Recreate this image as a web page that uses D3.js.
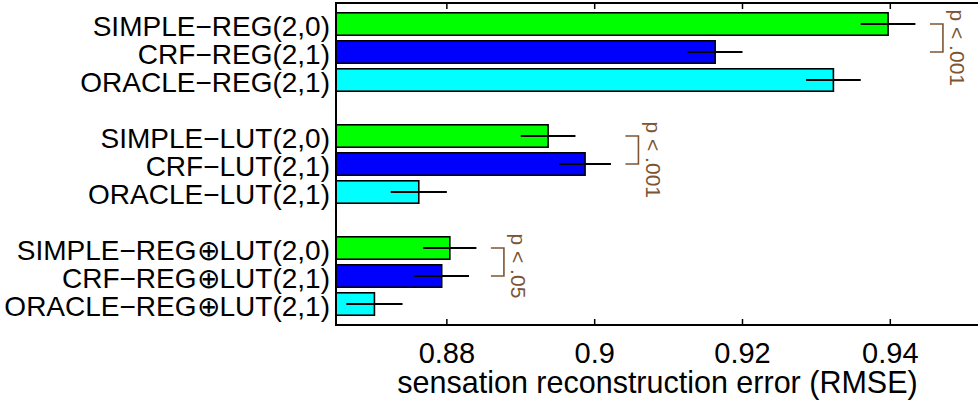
<!DOCTYPE html>
<html>
<head>
<meta charset="utf-8">
<script src="https://cdnjs.cloudflare.com/ajax/libs/d3/7.8.5/d3.min.js"></script>
<style>
  body { margin: 0; background: #fff; }
  svg text { font-family: "Liberation Sans", Arial, Helvetica, sans-serif; }
</style>
</head>
<body>
<div id="chart"></div>
<script>
// data
var categories = [
  "SIMPLE\u2212REG(2,0)", "CRF\u2212REG(2,1)", "ORACLE\u2212REG(2,1)",
  "SIMPLE\u2212LUT(2,0)", "CRF\u2212LUT(2,1)", "ORACLE\u2212LUT(2,1)",
  "SIMPLE\u2212REG\u2295LUT(2,0)", "CRF\u2212REG\u2295LUT(2,1)", "ORACLE\u2212REG\u2295LUT(2,1)"
];
var slots = [0, 1, 2, 4, 5, 6, 8, 9, 10];   // row position, empty rows between groups
var values = [0.9397, 0.9163, 0.9323, 0.8937, 0.8987, 0.8762, 0.8804, 0.8793, 0.8702];
var errors = [0.0037, 0.0037, 0.0037, 0.0037, 0.0035, 0.0038, 0.0036, 0.0037, 0.0038];
var methodColors = ["#00ff00", "#0000ff", "#00ffff"];
var tickValues = [0.88, 0.9, 0.92, 0.94];
var sigPairs = [[0, 1], [3, 4], [6, 7]];
var sigLabels = ["p < .001", "p < .001", "p < .05"];
var xLabel = "sensation reconstruction error (RMSE)";

var w = 978, h = 404;
var plotLeft = 336, plotRight = 979, plotTop = 3, plotBottom = 325;

var svg = d3.select("#chart").append("svg")
  .attr("width", w)
  .attr("height", h);

var x = d3.scaleLinear()
  .domain([0.865, 0.952])
  .range([plotLeft, plotRight]);

var y = d3.scaleBand()
  .domain(d3.range(11))
  .range([plotTop, plotBottom])
  .paddingInner(0.2)
  .paddingOuter(0.35);

// bars
svg.selectAll("rect.bar")
  .data(values)
  .enter().append("rect")
  .attr("class", "bar")
  .attr("x", x(x.domain()[0]))
  .attr("y", function(d, i) { return y(slots[i]); })
  .attr("width", function(d) { return x(d) - x(x.domain()[0]); })
  .attr("height", y.bandwidth())
  .attr("fill", function(d, i) { return methodColors[i % 3]; })
  .attr("stroke", "#000")
  .attr("stroke-width", 1.6);

// error bars
svg.selectAll("line.err")
  .data(values)
  .enter().append("line")
  .attr("class", "err")
  .attr("x1", function(d, i) { return x(d - errors[i]); })
  .attr("x2", function(d, i) { return x(d + errors[i]); })
  .attr("y1", function(d, i) { return y(slots[i]) + y.bandwidth() / 2; })
  .attr("y2", function(d, i) { return y(slots[i]) + y.bandwidth() / 2; })
  .attr("stroke", "#000")
  .attr("stroke-width", 1.8);

// category labels
svg.selectAll("text.cat")
  .data(categories)
  .enter().append("text")
  .attr("class", "cat")
  .attr("x", plotLeft - 6)
  .attr("y", function(d, i) { return y(slots[i]) + y.bandwidth() / 2 + 11.5; })
  .attr("text-anchor", "end")
  .attr("font-size", 28)
  .attr("fill", "#000")
  .text(function(d) { return d; });

// frame
svg.append("rect")
  .attr("x", plotLeft)
  .attr("y", plotTop)
  .attr("width", plotRight - plotLeft)
  .attr("height", plotBottom - plotTop)
  .attr("fill", "none")
  .attr("stroke", "#000")
  .attr("stroke-width", 2);

// ticks, top and bottom, pointing inward
svg.selectAll("line.tickb")
  .data(tickValues)
  .enter().append("line")
  .attr("x1", function(d) { return x(d); })
  .attr("x2", function(d) { return x(d); })
  .attr("y1", plotBottom)
  .attr("y2", plotBottom - 6)
  .attr("stroke", "#000")
  .attr("stroke-width", 1.5);

svg.selectAll("line.tickt")
  .data(tickValues)
  .enter().append("line")
  .attr("x1", function(d) { return x(d); })
  .attr("x2", function(d) { return x(d); })
  .attr("y1", plotTop)
  .attr("y2", plotTop + 6)
  .attr("stroke", "#000")
  .attr("stroke-width", 1.5);

svg.selectAll("text.tick")
  .data(tickValues)
  .enter().append("text")
  .attr("x", function(d) { return x(d); })
  .attr("y", 363)
  .attr("text-anchor", "middle")
  .attr("font-size", 29)
  .text(function(d) { return d3.format("~g")(d); });

svg.append("text")
  .attr("x", 657.5)
  .attr("y", 393)
  .attr("text-anchor", "middle")
  .attr("font-size", 30.5)
  .text(xLabel);

// significance brackets
var brown = "#7d5535";
sigPairs.forEach(function(p, k) {
  var a = p[0], b = p[1];
  var y1 = y(slots[a]) + y.bandwidth() / 2;
  var y2 = y(slots[b]) + y.bandwidth() / 2;
  var bx = Math.max(x(values[a] + errors[a]), x(values[b] + errors[b])) + 27.5;

  svg.append("path")
    .attr("d", "M" + (bx - 13) + "," + y1 + "H" + bx + "V" + y2 + "H" + (bx - 13))
    .attr("fill", "none")
    .attr("stroke", brown)
    .attr("stroke-width", 1.6);

  svg.append("text")
    .attr("transform", "translate(" + (bx + 7.5) + "," + (y1 - 14.5) + ") rotate(90)")
    .attr("font-size", 21)
    .attr("fill", brown)
    .text(sigLabels[k]);
});
</script>
</body>
</html>
